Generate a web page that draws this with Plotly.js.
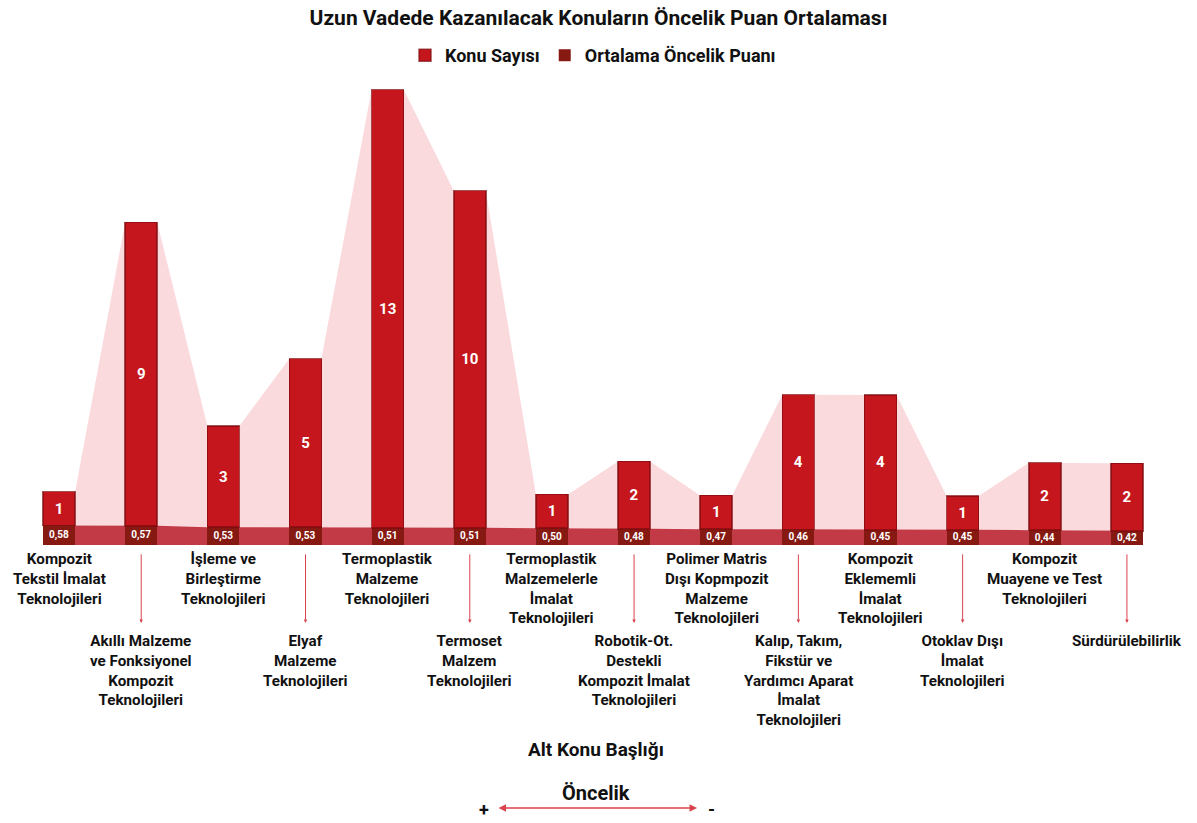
<!DOCTYPE html>
<html><head><meta charset="utf-8">
<script src="https://cdn.plot.ly/plotly-3.0.1.min.js"></script>
<style>html,body{margin:0;padding:0;background:#fff}#chart{width:1197px;height:823px}</style>
</head><body><div id="chart"></div>
<script>
const categories = [
  "Kompozit<br>Tekstil İmalat<br>Teknolojileri",
  "Akıllı Malzeme<br>ve Fonksiyonel<br>Kompozit<br>Teknolojileri",
  "İşleme ve<br>Birleştirme<br>Teknolojileri",
  "Elyaf<br>Malzeme<br>Teknolojileri",
  "Termoplastik<br>Malzeme<br>Teknolojileri",
  "Termoset<br>Malzem<br>Teknolojileri",
  "Termoplastik<br>Malzemelerle<br>İmalat<br>Teknolojileri",
  "Robotik-Ot.<br>Destekli<br>Kompozit İmalat<br>Teknolojileri",
  "Polimer Matris<br>Dışı Kopmpozit<br>Malzeme<br>Teknolojileri",
  "Kalıp, Takım,<br>Fikstür ve<br>Yardımcı Aparat<br>İmalat<br>Teknolojileri",
  "Kompozit<br>Eklememli<br>İmalat<br>Teknolojileri",
  "Otoklav Dışı<br>İmalat<br>Teknolojileri",
  "Kompozit<br>Muayene ve Test<br>Teknolojileri",
  "Sürdürülebilirlik"
];
const konuSayisi = [1, 9, 3, 5, 13, 10, 1, 2, 1, 4, 4, 1, 2, 2];
const oncelikPuani = [0.58, 0.57, 0.53, 0.53, 0.51, 0.51, 0.50, 0.48, 0.47, 0.46, 0.45, 0.45, 0.44, 0.42];

const FONT = "Roboto, 'DejaVu Sans Condensed', sans-serif";
const BW = 0.39;
const idx = categories.map((_, i) => i);
const totals = konuSayisi.map((v, i) => v + oncelikPuani[i]);

// edge points derived from data for the area shapes
const edgeX = [], edgeTop = [], edgeScore = [];
idx.forEach(i => {
  edgeX.push(i - BW / 2, i + BW / 2);
  edgeTop.push(totals[i], totals[i]);
  edgeScore.push(oncelikPuani[i], oncelikPuani[i]);
});

const traces = [
  {type: 'scatter', x: edgeX, y: edgeTop, mode: 'lines', fill: 'tozeroy',
   fillcolor: '#fadadd', line: {width: 0, color: '#fadadd'}, showlegend: false, hoverinfo: 'skip'},
  {type: 'scatter', x: edgeX, y: edgeScore, mode: 'lines', fill: 'tozeroy',
   fillcolor: '#c23a46', line: {width: 0, color: '#c23a46'}, showlegend: false, hoverinfo: 'skip'},
  {type: 'bar', name: 'Ortalama Öncelik Puanı', x: idx, y: oncelikPuani, width: BW,
   xaxis: 'x2', yaxis: 'y2',
   marker: {color: '#861a13', line: {width: 0}},
   text: oncelikPuani.map(v => v.toFixed(2).replace('.', ',')),
   textposition: 'inside', insidetextanchor: 'middle', textangle: 0, constraintext: 'none',
   textfont: {family: FONT, size: 10, color: '#fff', weight: 700}, legendrank: 2, hoverinfo: 'skip'},
  {type: 'bar', name: 'Konu Sayısı', x: idx, y: konuSayisi, width: BW,
   xaxis: 'x2', yaxis: 'y2',
   marker: {color: '#c4161c', line: {width: 1.5, color: 'rgba(125,12,14,0.7)'}},
   text: konuSayisi.map(String),
   textposition: 'inside', insidetextanchor: 'middle', textangle: 0, constraintext: 'none',
   textfont: {family: FONT, size: 15, color: '#fff', weight: 700}, legendrank: 1, hoverinfo: 'skip'}
];

const annotations = [];
idx.forEach(i => {
  const lower = i % 2 === 1;
  annotations.push({
    x: i, xref: 'x', y: lower ? -0.18 : -0.007, yref: 'paper', yanchor: 'top', xanchor: 'center',
    text: categories[i], showarrow: false, align: 'center',
    font: {family: FONT, size: 15.2, color: '#111', weight: 700}
  });
  if (lower) {
    annotations.push({
      x: i, xref: 'x', y: -0.165, yref: 'paper', text: '', showarrow: true,
      ax: 0, ay: -70, arrowhead: 2, arrowsize: 0.7, arrowwidth: 1, arrowcolor: '#d9444c'
    });
  }
});
annotations.push(
  {x: 0.503, xref: 'paper', y: -0.434, yref: 'paper', yanchor: 'middle', text: 'Alt Konu Başlığı', showarrow: false,
   font: {family: FONT, size: 19, color: '#111', weight: 700}},
  {x: 0.503, xref: 'paper', y: -0.525, yref: 'paper', yanchor: 'middle', text: 'Öncelik', showarrow: false,
   font: {family: FONT, size: 20, color: '#111', weight: 700}},
  {x: 0.5905, xref: 'paper', y: -0.557, yref: 'paper', text: '', showarrow: true, ax: -200, ay: 0,
   arrowhead: 2, arrowside: 'end+start', arrowsize: 1, arrowwidth: 1.5, arrowcolor: '#d9444c'},
  {x: 0.405, xref: 'paper', y: -0.561, yref: 'paper', yanchor: 'middle', text: '+', showarrow: false,
   font: {family: FONT, size: 18, color: '#111', weight: 700}},
  {x: 0.603, xref: 'paper', y: -0.561, yref: 'paper', yanchor: 'middle', text: '-', showarrow: false,
   font: {family: FONT, size: 18, color: '#111', weight: 700}}
);

const axisOff = {showticklabels: false, showgrid: false, zeroline: false, showline: false, ticks: ''};
const layout = {
  width: 1197, height: 823,
  margin: {l: 18, r: 29, t: 73, b: 278},
  paper_bgcolor: '#fff', plot_bgcolor: '#fff',
  barmode: 'stack',
  title: {text: 'Uzun Vadede Kazanılacak Konuların Öncelik Puan Ortalaması',
          x: 0.5, xanchor: 'center', y: 0.979, yanchor: 'middle',
          font: {family: FONT, size: 21, color: '#111', weight: 700}},
  showlegend: true,
  legend: {orientation: 'h', x: 0.5, xanchor: 'center', y: 1.037, yanchor: 'middle', traceorder: 'normal',
           font: {family: FONT, size: 18, color: '#111', weight: 700}, itemwidth: 30},
  xaxis: Object.assign({range: [-0.5, 13.5]}, axisOff),
  yaxis: Object.assign({range: [0, 14], visible: false}, axisOff),
  xaxis2: Object.assign({range: [-0.5, 13.5], overlaying: 'x'}, axisOff),
  yaxis2: Object.assign({range: [0, 14], overlaying: 'y', visible: false}, axisOff),
  annotations: annotations
};

Plotly.newPlot('chart', traces, layout, {displayModeBar: false, staticPlot: true});
</script>
</body></html>
